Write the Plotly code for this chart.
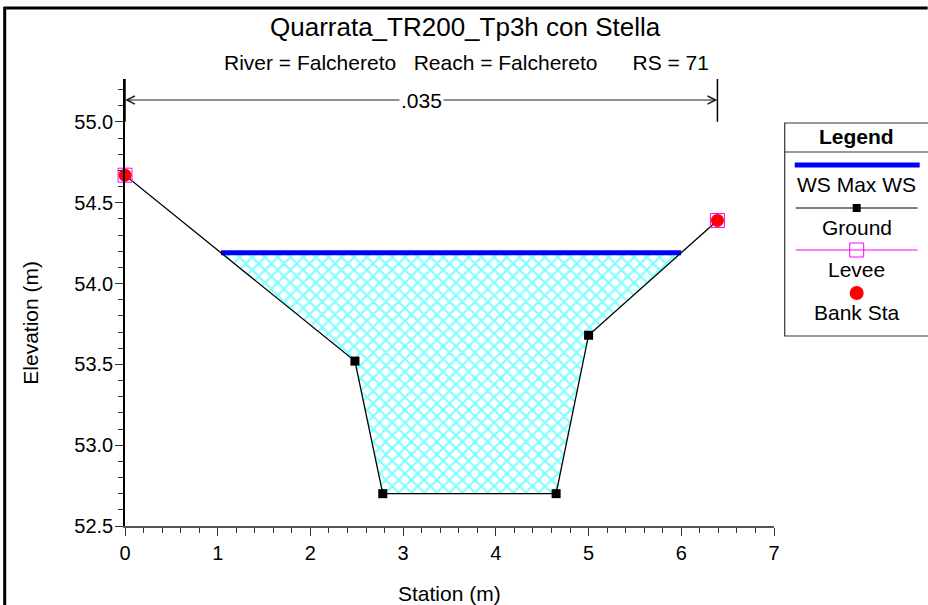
import numpy as np
import plotly.graph_objects as go

# cross section data
stations = [0.0, 2.48, 2.78, 4.65, 5.00, 6.39]
elevations = [54.67, 53.52, 52.70, 52.70, 53.68, 54.39]
ws_elev = 54.19
bank_idx = [0, 5]
n_value = ".035"

title = "Quarrata_TR200_Tp3h con Stella"
subtitle = "River = Falchereto   Reach = Falchereto      RS = 71"
legend_items = ["WS Max WS", "Ground", "Levee", "Bank Sta"]

FONT = "Liberation Sans, Arial, sans-serif"

# plot area in pixels, used to place paper-space decorations
L, R, T, B = 125.3, 774.3, 79, 526
W, H = 928, 605


def px(x):
    return (x - L) / (R - L)


def py(y):
    return (B - y) / (B - T)


def crossing(x1, y1, x2, y2, level):
    return x1 + (level - y1) * (x2 - x1) / (y2 - y1)


# water polygon: ground below the water surface, clipped at ws level
poly_x, poly_y = [], []
for i in range(len(stations) - 1):
    x1, y1, x2, y2 = stations[i], elevations[i], stations[i + 1], elevations[i + 1]
    if y1 <= ws_elev:
        poly_x.append(x1)
        poly_y.append(y1)
    if (y1 - ws_elev) * (y2 - ws_elev) < 0:
        poly_x.append(crossing(x1, y1, x2, y2, ws_elev))
        poly_y.append(ws_elev)
ws_left, ws_right = poly_x[0], poly_x[-1]
poly_x.append(poly_x[0])
poly_y.append(poly_y[0])

fig = go.Figure()

fig.add_trace(go.Scatter(
    x=poly_x, y=poly_y, mode="lines", fill="toself",
    line=dict(width=0, color="rgba(0,0,0,0)"),
    fillcolor="white",
    fillpattern=dict(shape="x", fgcolor="#00FFFF", bgcolor="white", size=9, solidity=0.42),
    hoverinfo="skip", showlegend=False,
))

fig.add_trace(go.Scatter(
    x=[ws_left, ws_right], y=[ws_elev, ws_elev], mode="lines",
    line=dict(color="#0000FF", width=5), showlegend=False,
))

inner_sizes = [0] + [9] * (len(stations) - 2) + [0]
fig.add_trace(go.Scatter(
    x=stations, y=elevations, mode="lines+markers",
    line=dict(color="black", width=1.3),
    marker=dict(symbol="square", size=inner_sizes, color="black", opacity=1, line=dict(width=0)),
    showlegend=False, cliponaxis=False,
))

bx = [stations[i] for i in bank_idx]
by = [elevations[i] for i in bank_idx]
fig.add_trace(go.Scatter(
    x=bx, y=by, mode="markers",
    marker=dict(symbol="square-open", size=14, color="#FF00FF", line=dict(width=1)),
    showlegend=False, cliponaxis=False,
))
fig.add_trace(go.Scatter(
    x=bx, y=by, mode="markers",
    marker=dict(symbol="circle", size=13, color="#FF0000", line=dict(width=0)),
    showlegend=False, cliponaxis=False,
))

shapes = []
annotations = []

# n-value markers and arrow above the section
n_y = 55.135
for s in [stations[0], stations[-1]]:
    shapes.append(dict(type="line", xref="x", yref="y", x0=s, x1=s, y0=55.0, y1=55.265,
                       line=dict(color="black", width=1.5)))
mid = (stations[0] + stations[-1]) / 2
for s in [stations[0], stations[-1]]:
    annotations.append(dict(x=s, y=n_y, ax=mid, ay=n_y, xref="x", yref="y", axref="x", ayref="y",
                            text="", showarrow=True, arrowhead=5, arrowsize=1.6, arrowwidth=1,
                            arrowcolor="#222"))
annotations.append(dict(x=mid, y=n_y, xref="x", yref="y", text=n_value, showarrow=False,
                        xanchor="center", bgcolor="white",
                        font=dict(size=21, color="black", family=FONT)))

# titles
annotations.append(dict(x=px(466), y=py(27), xref="paper", yref="paper", text=title,
                        xanchor="center", yanchor="middle", showarrow=False,
                        font=dict(size=26, color="black", family=FONT)))
annotations.append(dict(x=px(467), y=py(62), xref="paper", yref="paper", text=subtitle,
                        xanchor="center", yanchor="middle", showarrow=False,
                        font=dict(size=21, color="black", family=FONT)))
annotations.append(dict(x=px(30), y=py(323), xref="paper", yref="paper", text="Elevation (m)",
                        xanchor="center", yanchor="middle", textangle=-90, showarrow=False,
                        font=dict(size=21, color="black", family=FONT)))
annotations.append(dict(x=0.5, y=py(593), xref="paper", yref="paper", text="Station (m)",
                        xanchor="center", yanchor="middle", showarrow=False,
                        font=dict(size=21, color="black", family=FONT)))

# outer frame (top and left edges)
shapes.append(dict(type="line", xref="paper", yref="paper", x0=px(4), x1=px(W), y0=py(8), y1=py(8),
                   line=dict(color="black", width=3), layer="above"))
shapes.append(dict(type="line", xref="paper", yref="paper", x0=px(5), x1=px(5), y0=py(7), y1=py(H),
                   line=dict(color="black", width=3), layer="above"))

# hand-drawn legend box
lx0, lx1, ly0, ly1 = 785, 931, 123, 336
shapes.append(dict(type="rect", xref="paper", yref="paper", x0=px(lx0), x1=px(lx1), y0=py(ly0), y1=py(ly1),
                   line=dict(color="#333", width=1.2), fillcolor="white"))
shapes.append(dict(type="line", xref="paper", yref="paper", x0=px(lx0), x1=px(lx1), y0=py(152), y1=py(152),
                   line=dict(color="#333", width=1.2)))
annotations.append(dict(x=px(857), y=py(136), xref="paper", yref="paper", text="<b>Legend</b>",
                        xanchor="center", yanchor="middle", showarrow=False,
                        font=dict(size=21, color="black", family=FONT)))
cx = 857
# WS
shapes.append(dict(type="line", xref="paper", yref="paper", x0=px(795), x1=px(920), y0=py(165), y1=py(165),
                   line=dict(color="#0000FF", width=5)))
# Ground
shapes.append(dict(type="line", xref="paper", yref="paper", x0=px(796), x1=px(918), y0=py(208), y1=py(208),
                   line=dict(color="black", width=1)))
shapes.append(dict(type="rect", xref="paper", yref="paper", x0=px(cx - 4), x1=px(cx + 4), y0=py(204), y1=py(212),
                   line=dict(color="black", width=0), fillcolor="black"))
# Levee
shapes.append(dict(type="line", xref="paper", yref="paper", x0=px(796), x1=px(918), y0=py(250), y1=py(250),
                   line=dict(color="#FF00FF", width=1)))
shapes.append(dict(type="rect", xref="paper", yref="paper", x0=px(cx - 7), x1=px(cx + 7), y0=py(243), y1=py(257),
                   line=dict(color="#FF00FF", width=1), fillcolor="rgba(0,0,0,0)"))
# Bank Sta
shapes.append(dict(type="circle", xref="paper", yref="paper", x0=px(cx - 7), x1=px(cx + 7), y0=py(286), y1=py(300),
                   line=dict(color="#FF0000", width=0), fillcolor="#FF0000"))
for txt, yy in zip(legend_items, [184, 227, 269, 312]):
    annotations.append(dict(x=px(cx), y=py(yy), xref="paper", yref="paper", text=txt,
                            xanchor="center", yanchor="middle", showarrow=False,
                            font=dict(size=21, color="black", family=FONT)))

fig.update_layout(
    width=W, height=H,
    margin=dict(l=L, r=W - R, t=T, b=H - B, pad=0),
    plot_bgcolor="white", paper_bgcolor="white",
    showlegend=False,
    font=dict(family=FONT, size=19, color="black"),
    xaxis=dict(range=[0, 7], dtick=1, showgrid=False, zeroline=False,
               showline=True, linecolor="#555", linewidth=1.5,
               ticks="outside", ticklen=8, tickcolor="#333",
               minor=dict(dtick=0.2, ticks="outside", ticklen=5, tickcolor="#333"),
               tickfont=dict(size=20)),
    yaxis=dict(range=[52.5, 55.265], tick0=52.5, dtick=0.5, tickformat=".1f", showgrid=False,
               zeroline=False, showline=True, linecolor="black", linewidth=1.5,
               ticks="outside", ticklen=8, tickcolor="#333", ticklabelstandoff=-2,
               minor=dict(dtick=0.1, ticks="outside", ticklen=5, tickcolor="#333"),
               tickfont=dict(size=20)),
    shapes=shapes,
    annotations=annotations,
)

# drop the default page margin so the figure sits at the window origin
fig.write_html("out.html", config={"displayModeBar": False},
               post_script="document.body.style.margin='0';")
